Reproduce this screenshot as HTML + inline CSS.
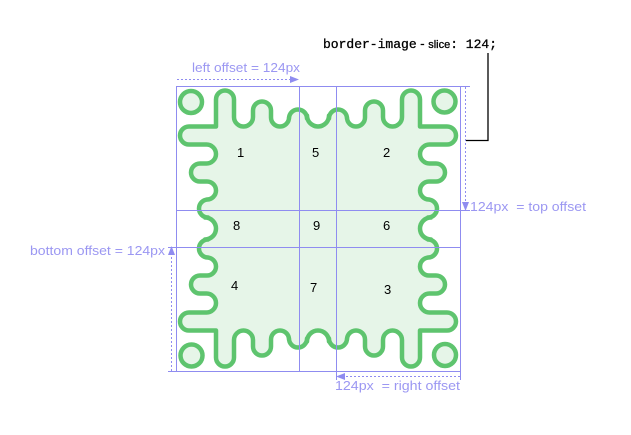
<!DOCTYPE html>
<html><head><meta charset="utf-8"><style>
html,body{margin:0;padding:0;background:#fff;}
svg{display:block;}
.lbl{font-family:"Liberation Sans",sans-serif;font-size:13px;fill:#9b97f2;}
.num{font-family:"Liberation Sans",sans-serif;font-size:13px;fill:#000;}
</style></head><body>
<svg id="svg" width="631" height="435" viewBox="0 0 631 435">
  <g id="shape"></g>
  <g stroke="#8f8cf0" stroke-width="1" fill="none">
    <line x1="176" y1="86.5" x2="470" y2="86.5"/>
    <line x1="176" y1="210.5" x2="470" y2="210.5"/>
    <line x1="168" y1="247.5" x2="460" y2="247.5"/>
    <line x1="168" y1="371.5" x2="460" y2="371.5"/>
    <line x1="176.5" y1="86" x2="176.5" y2="371"/>
    <line x1="299.5" y1="86" x2="299.5" y2="371"/>
    <line x1="336.5" y1="86" x2="336.5" y2="380"/>
    <line x1="460.5" y1="86" x2="460.5" y2="380"/>
  </g>
  <g stroke="#8f8cf0" stroke-width="1" stroke-dasharray="2,2" fill="none">
    <line x1="177" y1="79.5" x2="291" y2="79.5"/>
    <line x1="465.5" y1="87" x2="465.5" y2="203"/>
    <line x1="171.5" y1="371" x2="171.5" y2="253"/>
    <line x1="460" y1="376.5" x2="343" y2="376.5"/>
  </g>
  <g fill="#8f8cf0">
    <polygon points="299,79.5 290,76 290,83"/>
    <polygon points="465.5,211 462,202 469,202"/>
    <polygon points="171.5,246 168,255 175,255"/>
    <polygon points="336,376.5 345,373 345,380"/>
  </g>
  <text class="lbl" x="192" y="72" textLength="108" lengthAdjust="spacingAndGlyphs">left offset = 124px</text>
  <text class="lbl" x="470" y="211" textLength="116" lengthAdjust="spacingAndGlyphs">124px &#160;= top offset</text>
  <text class="lbl" x="30" y="255" textLength="135" lengthAdjust="spacingAndGlyphs">bottom offset = 124px</text>
  <text class="lbl" x="335" y="390" textLength="125" lengthAdjust="spacingAndGlyphs">124px &#160;= right offset</text>
  <polyline points="488,53 488,140.5 466,140.5" fill="none" stroke="#000" stroke-width="1.3"/>
  <text x="323" y="48" font-size="13" fill="#000" stroke="#000" stroke-width="0.3"><tspan font-family="Liberation Mono,monospace">border-image</tspan><tspan font-family="Liberation Sans,sans-serif"> - </tspan><tspan font-family="Liberation Sans,sans-serif" font-size="11">slice</tspan><tspan font-family="Liberation Mono,monospace">: 124;</tspan></text>
  <g>
    <text class="num" x="237" y="157">1</text>
    <text class="num" x="312" y="157">5</text>
    <text class="num" x="383" y="157">2</text>
    <text class="num" x="233" y="230">8</text>
    <text class="num" x="313" y="230">9</text>
    <text class="num" x="383" y="230">6</text>
    <text class="num" x="231" y="290">4</text>
    <text class="num" x="310" y="292">7</text>
    <text class="num" x="384" y="294">3</text>
  </g>
</svg>
<script>
const bumpCenters = [-93, -56, -20, 20, 56, 93];
const bumpTops = [-138, -127, -119, -119, -127, -138];
const valleyBottom = -102;
const CX = 318, CY = 228.5, R = 9;
function rot(p, k){let [u,v]=p;for(let i=0;i<k;i++){[u,v]=[-v,u];}return [CX+u, CY+v];}
let d = '';
for (let k = 0; k < 4; k++) {
  const P = (u,v)=>{const q=rot([u,v],k);return q[0].toFixed(2)+' '+q[1].toFixed(2);};
  if (k===0) d += 'M' + P(-102, valleyBottom);
  for (let i = 0; i < bumpCenters.length; i++) {
    const c = bumpCenters[i], t = bumpTops[i];
    d += ' L' + P(c-R, t+R) + ' A' + R + ' ' + R + ' 0 0 1 ' + P(c+R, t+R);
    if (i < bumpCenters.length-1) {
      const a = c+R, b = bumpCenters[i+1]-R, rv = (b-a)/2;
      d += ' L' + P(a, valleyBottom-rv) + ' A' + rv + ' ' + rv + ' 0 0 0 ' + P(b, valleyBottom-rv);
    } else {
      d += ' L' + P(c+R, valleyBottom);
    }
  }
}
d += ' Z';
const ns = 'http://www.w3.org/2000/svg';
const g = document.getElementById('shape');
const path = document.createElementNS(ns, 'path');
path.setAttribute('d', d);
path.setAttribute('fill', '#e6f5e8');
path.setAttribute('stroke', '#5ec46e');
path.setAttribute('stroke-width', '4.5');
path.setAttribute('stroke-linejoin', 'round');


g.appendChild(path);
for (let k = 0; k < 4; k++) {
  const q = rot([-127, -126.5], k);
  const c = document.createElementNS(ns, 'circle');
  c.setAttribute('cx', q[0]); c.setAttribute('cy', q[1]); c.setAttribute('r', 11);
  c.setAttribute('fill', '#e6f5e8'); c.setAttribute('stroke', '#5ec46e'); c.setAttribute('stroke-width', '4.5');
  
  
  g.appendChild(c);
}
</script>
</body></html>
